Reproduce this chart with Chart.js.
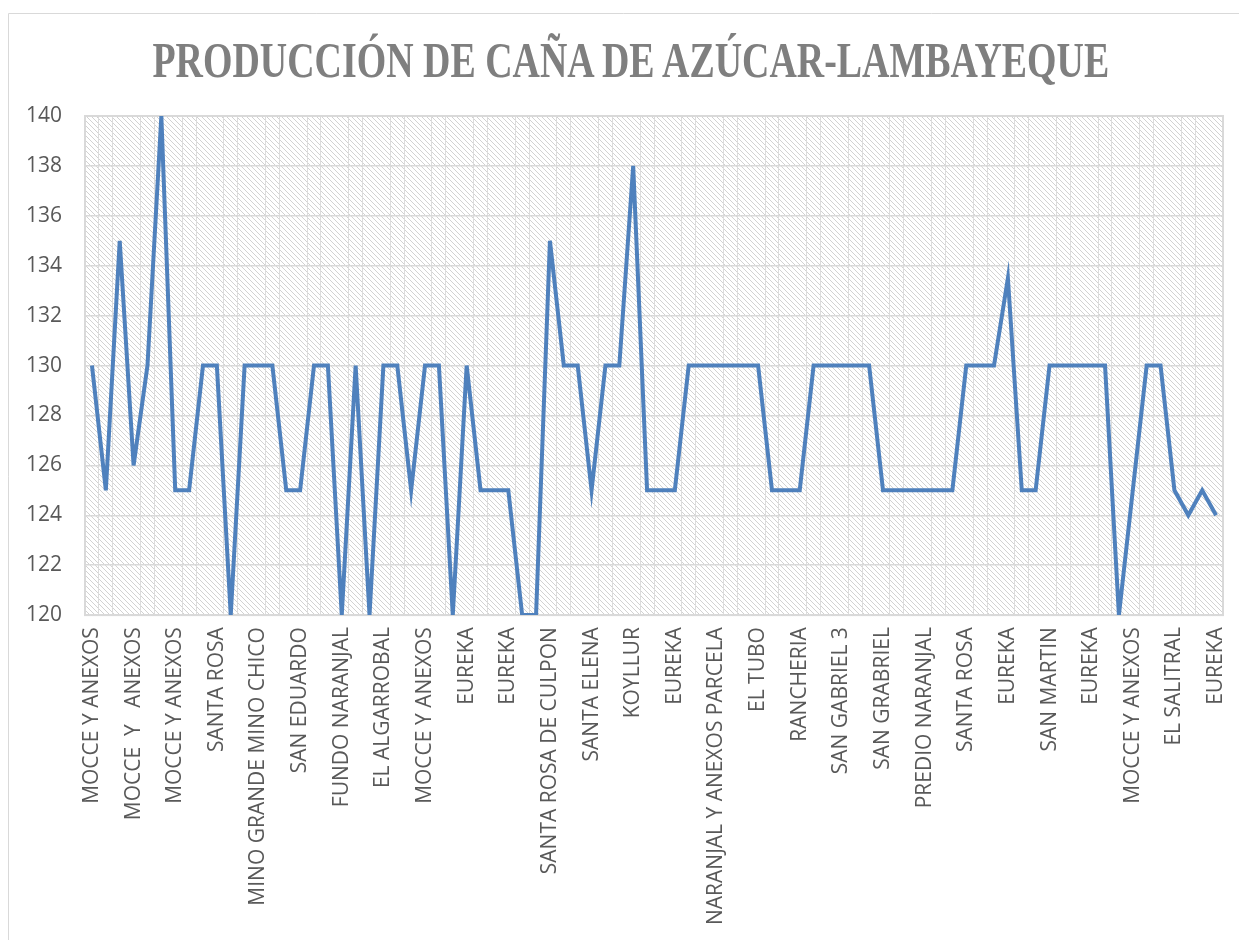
<!DOCTYPE html>
<html>
<head>
<meta charset="utf-8">
<script src="https://cdn.jsdelivr.net/npm/chart.js@4/dist/chart.umd.min.js"></script>
<style>
  html, body { margin: 0; padding: 0; background: #fff; }
  #wrap { position: relative; width: 1239px; height: 940px; }
  #titulo {
    position: absolute; left: 0; top: 35px; width: 1260px;
    text-align: center; white-space: nowrap;
    font-family: 'Liberation Serif', serif; font-weight: bold;
    font-size: 50px; line-height: 50px; color: #7f7f7f;
    transform: scaleX(0.758); transform-origin: 630px 0;
  }
</style>
</head>
<body>
<div id="wrap">
  <canvas id="chart" width="1239" height="940"></canvas>
  <div id="titulo"></div>
</div>
<script>
// datos del grafico (solo se rotula 1 de cada 3 categorias)
const categorias = [
  'MOCCE Y ANEXOS', '', '',
  'MOCCE  Y   ANEXOS', '', '',
  'MOCCE Y ANEXOS', '', '',
  'SANTA ROSA', '', '',
  'MINO GRANDE MINO CHICO', '', '',
  'SAN EDUARDO', '', '',
  'FUNDO NARANJAL', '', '',
  'EL ALGARROBAL', '', '',
  'MOCCE Y ANEXOS', '', '',
  'EUREKA', '', '',
  'EUREKA', '', '',
  'SANTA ROSA DE CULPON', '', '',
  'SANTA ELENA', '', '',
  'KOYLLUR', '', '',
  'EUREKA', '', '',
  'NARANJAL Y ANEXOS PARCELA', '', '',
  'EL TUBO', '', '',
  'RANCHERIA', '', '',
  'SAN GABRIEL 3', '', '',
  'SAN GRABRIEL', '', '',
  'PREDIO NARANJAL', '', '',
  'SANTA ROSA', '', '',
  'EUREKA', '', '',
  'SAN MARTIN', '', '',
  'EUREKA', '', '',
  'MOCCE Y ANEXOS', '', '',
  'EL SALITRAL', '', '',
  'EUREKA'
];

const produccion = [
  130, 125, 135, 126, 130, 140, 125, 125, 130, 130,
  120, 130, 130, 130, 125, 125, 130, 130, 120, 130,
  120, 130, 130, 125, 130, 130, 120, 130, 125, 125,
  125, 120, 120, 135, 130, 130, 125, 130, 130, 138,
  125, 125, 125, 130, 130, 130, 130, 130, 130, 125,
  125, 125, 130, 130, 130, 130, 130, 125, 125, 125,
  125, 125, 125, 130, 130, 130, 133.5, 125, 125, 130,
  130, 130, 130, 130, 120, 125, 130, 130, 125, 124,
  125, 124
];

const ejeY = { min: 120, max: 140, paso: 2 };
const titulo = 'PRODUCCIÓN DE CAÑA DE AZÚCAR-LAMBAYEQUE';

document.getElementById('titulo').textContent = titulo;

// trama diagonal del area de trazado
function crearTrama() {
  const c = document.createElement('canvas');
  c.width = 5; c.height = 5;
  const p = c.getContext('2d');
  p.fillStyle = '#ffffff';
  p.fillRect(0, 0, 5, 5);
  p.strokeStyle = '#d2d2d2';
  p.lineWidth = 1;
  p.beginPath();
  p.moveTo(-1, -1); p.lineTo(6, 6);
  p.moveTo(-1, 4); p.lineTo(1, 6);
  p.moveTo(4, -1); p.lineTo(6, 1);
  p.stroke();
  return c;
}

const fondoPlugin = {
  id: 'fondo',
  beforeDraw(chart) {
    const { ctx, chartArea: a } = chart;
    ctx.save();
    // borde exterior del grafico
    ctx.strokeStyle = '#d9d9d9';
    ctx.lineWidth = 1;
    ctx.beginPath();
    ctx.moveTo(8.5, chart.height);
    ctx.lineTo(8.5, 13.5);
    ctx.lineTo(chart.width, 13.5);
    ctx.stroke();
    ctx.fillStyle = ctx.createPattern(crearTrama(), 'repeat');
    ctx.fillRect(a.left, a.top, a.right - a.left, a.bottom - a.top);
    ctx.restore();
  },
  beforeDatasetsDraw(chart) {
    const { ctx, chartArea: a } = chart;
    ctx.save();
    ctx.strokeStyle = '#d9d9d9';
    ctx.lineWidth = 2;
    ctx.strokeRect(a.left, a.top, a.right - a.left, a.bottom - a.top);
    ctx.restore();
  }
};

Chart.defaults.font.family = "'Open Sans', sans-serif";
Chart.defaults.color = '#595959';

const ctx = document.getElementById('chart').getContext('2d');
new Chart(ctx, {
  type: 'line',
  data: {
    labels: categorias,
    datasets: [{
      label: 'Producción',
      data: produccion,
      borderColor: '#4f81bd',
      borderWidth: 4,
      pointRadius: 0,
      tension: 0,
      clip: 0
    }]
  },
  options: {
    responsive: false,
    animation: false,
    layout: { padding: { top: 116, left: 3, right: 16, bottom: 3 } },
    plugins: {
      legend: { display: false },
      tooltip: { enabled: false },
      title: { display: false, text: titulo }
    },
    scales: {
      x: {
        offset: true,
        afterFit(scale) {
          // sin margen extra por la ultima etiqueta girada
          scale.paddingRight = 0;
        },
        grid: {
          offset: true,
          drawTicks: false,
          lineWidth: 1,
          color: (c) => (c.index % 3 === 0 ? 'rgba(0,0,0,0)' : '#dcdcdc')
        },
        border: { display: false },
        ticks: {
          autoSkip: false,
          maxRotation: 90,
          minRotation: 90,
          padding: 12,
          font: { size: 21 },
          color: '#595959'
        }
      },
      y: {
        min: ejeY.min,
        max: ejeY.max,
        grid: { drawTicks: false, color: '#d9d9d9', lineWidth: 1.5 },
        border: { display: false },
        ticks: {
          stepSize: ejeY.paso,
          padding: 23,
          font: { size: 21 },
          color: '#595959'
        }
      }
    }
  },
  plugins: [fondoPlugin]
});
</script>
</body>
</html>
